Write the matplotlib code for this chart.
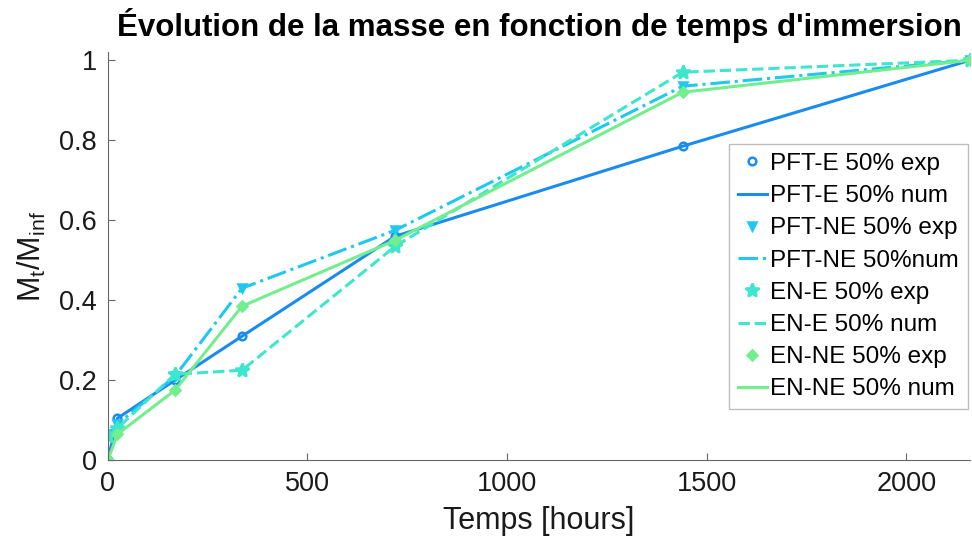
import matplotlib
matplotlib.use("Agg")
import matplotlib.pyplot as plt

plt.rcParams['font.family'] = ['Liberation Sans', 'DejaVu Sans']
plt.rcParams['mathtext.fontset'] = 'custom'
plt.rcParams['mathtext.rm'] = 'Liberation Sans'
plt.rcParams['mathtext.it'] = 'Liberation Sans'

temps = [0, 24, 168, 336, 720, 1440, 2160]

pft_e = [0, 0.105, 0.2, 0.31, 0.56, 0.785, 1.0]
pft_ne = [0.065, 0.09, 0.21, 0.43, 0.575, 0.935, 1.0]
en_e = [0.06, 0.08, 0.215, 0.225, 0.535, 0.97, 1.0]
en_ne = [0, 0.065, 0.175, 0.385, 0.55, 0.92, 1.0]

series = [
	("PFT-E 50% exp", "PFT-E 50% num", pft_e, "#1a8cf0", "o", "-"),
	("PFT-NE 50% exp", "PFT-NE 50%num", pft_ne, "#1ec8f0", "v", "-."),
	("EN-E 50% exp", "EN-E 50% num", en_e, "#3de6cc", "*", "--"),
	("EN-NE 50% exp", "EN-NE 50% num", en_ne, "#72ee8e", "D", "-"),
]

fig = plt.figure(figsize=(9.72, 5.44), dpi=100)
ax = fig.add_axes([0.111, 0.154, 0.887, 0.75])

for lab_exp, lab_num, vals, col, mk, ls in series:
	ms = 10 if mk == "*" else 5.5
	ax.plot(temps, vals, linestyle="none", marker=mk, color=col, markersize=ms,
		markerfacecolor=col if mk != "o" else "none", markeredgewidth=1.8, label=lab_exp)
	ax.plot(temps, vals, linestyle=ls, color=col, linewidth=2.2, label=lab_num)

ax.set_xlim(0, 2160)
ax.set_ylim(0, 1.02)
ax.set_xticks([0, 500, 1000, 1500, 2000])
ax.set_yticks([0, 0.2, 0.4, 0.6, 0.8, 1])
ax.set_yticklabels(["0", "0.2", "0.4", "0.6", "0.8", "1"])
ax.spines['top'].set_visible(False)
ax.spines['right'].set_visible(False)
for s in ['left', 'bottom']:
	ax.spines[s].set_color("#666666")
ax.tick_params(direction="in", length=5, labelsize=19.5, colors="#1a1a1a", color="#666666", pad=8)

ax.set_xlabel("Temps [hours]", fontsize=22, color="#1a1a1a", labelpad=6)
ax.set_ylabel(r"M$_t$/M$_{inf}$", fontsize=22, color="#1a1a1a", labelpad=8)
ax.set_title("Évolution de la masse en fonction de temps d'immersion",
	fontsize=22.5, fontweight="bold", pad=12)

leg = ax.legend(loc="upper right", bbox_to_anchor=(1.0, 0.78), fontsize=17.5,
	handlelength=1.2, handletextpad=0.15, borderpad=0.35, labelspacing=0.42,
	borderaxespad=0.1, fancybox=False, framealpha=1, edgecolor="#bdbdbd")

fig.savefig("out.png", dpi=100)
